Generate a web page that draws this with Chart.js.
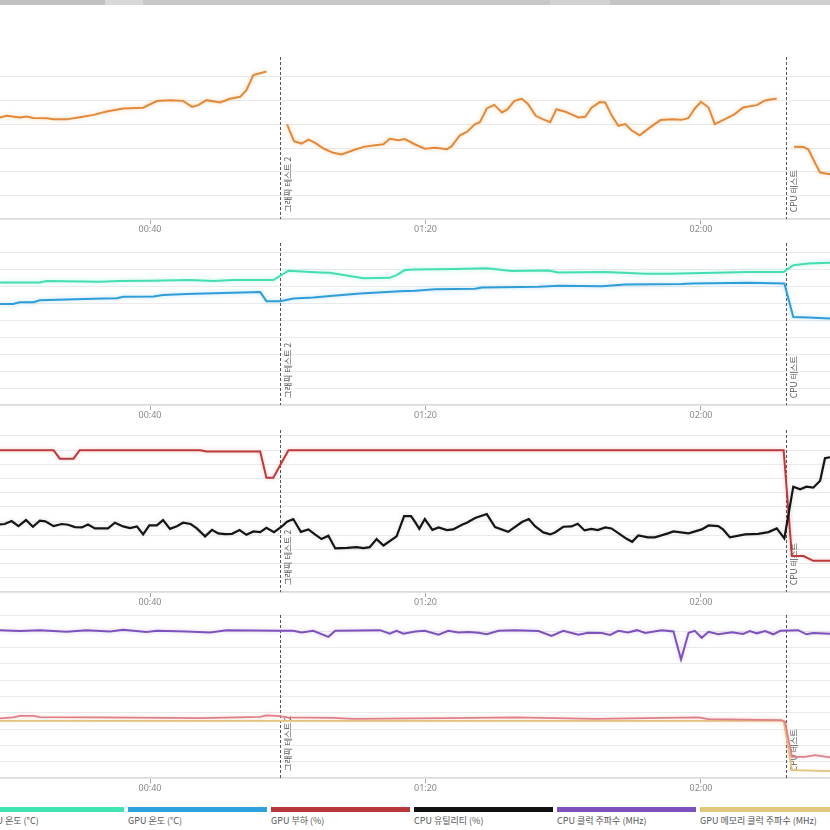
<!DOCTYPE html>
<html><head><meta charset="utf-8">
<script src="https://cdn.jsdelivr.net/npm/chart.js@4.4.1/dist/chart.umd.min.js"></script>
<style>
html,body{margin:0;padding:0;background:#fff;width:830px;height:830px;overflow:hidden;position:relative;font-family:"Noto Sans CJK KR","Noto Sans",sans-serif;}
canvas{position:absolute;left:0;}
#topbar{position:absolute;left:0;top:0;width:830px;height:5px;background:linear-gradient(90deg,#c2c2c2 0,#c2c2c2 105px,#d8d8d8 105px,#d8d8d8 143px,#c7c7c7 143px,#c7c7c7 550px,#d2d2d2 550px,#d2d2d2 610px,#c4c4c4 610px,#c4c4c4 720px,#d0d0d0 720px,#d0d0d0 830px);}
.leg{position:absolute;top:807px;width:139px;}
.leg .bar{height:5px;}
.leg .txt{font-size:9px;color:#555;margin-top:3px;white-space:nowrap;line-height:12px;}
</style></head>
<body>
<div id="topbar"></div>
<canvas id="c1" width="830" height="178" style="top:57px"></canvas>
<canvas id="c2" width="830" height="178" style="top:243px"></canvas>
<canvas id="c3" width="830" height="178" style="top:430px"></canvas>
<canvas id="c4" width="830" height="179" style="top:615px"></canvas>
<div id="legend"></div>
<script>
// ---- time axis (minutes) ----
const xMin = 18.22, xMax = 138.73;
const xTickValues = [40, 80, 120];
const eventTimes = [58.9, 132.3];
const eventLabels = ['그래픽 테스트 2', 'CPU 테스트'];

// ---- panel 1 ----
const orangeTimes = [17.5,18.2,19.2,21.1,22.1,23.0,25.0,26.0,27.9,29.8,31.8,33.7,36.1,39.0,41.0,42.9,44.8,46.1,47.0,48.2,50.2,51.6,53.1,54.0,55.0,56.9,
  58.5,
  59.9,60.9,62.0,63.0,64.0,65.2,66.6,67.8,69.5,71.0,72.4,73.9,74.8,76.1,77.0,78.5,79.9,81.4,83.1,83.8,85.0,86.0,87.2,87.9,88.9,90.0,91.1,91.9,92.9,94.0,
  94.9,96.0,97.1,98.1,99.0,100.3,101.2,102.2,103.2,104.1,105.3,106.1,107.0,108.0,109.0,109.9,111.1,112.4,114.1,115.8,117.2,118.2,119.1,120.0,121.1,
  122.0,123.7,124.9,126.1,128.1,129.3,131.0,
  132.3,
  133.5,134.9,135.6,136.6,137.3,138.7,140.2];
const orangeValues = [42.9,42.9,43.6,42.9,43.3,42.7,42.6,42.2,42.1,43.0,44.0,45.4,46.7,47.0,49.8,50.2,49.9,47.4,48.1,50.2,49.2,50.8,51.6,54.4,60.8,62.3,
  null,
  40.0,32.9,31.9,33.6,32.2,29.8,28.0,27.3,29.1,30.5,31.1,31.6,33.9,33.3,33.8,31.5,29.7,30.1,29.5,30.8,35.4,36.8,40.1,40.9,46.7,48.2,45.0,46.3,49.9,50.8,
  48.5,43.6,42.1,40.9,46.4,45.3,44.2,42.9,43.2,47.0,49.4,49.2,43.9,39.4,40.1,37.5,35.4,38.3,41.8,42.1,41.9,42.7,46.7,49.5,47.1,
  40.1,42.5,44.3,47.1,48.1,50.1,50.9,
  null,
  30.5,30.4,29.4,23.5,19.7,19.0,19.0];

// ---- panel 2 (°C) ----
const cpuTempTimes = [17.5,18.2,24.0,25.0,32.7,35.6,40.0,45.8,49.2,52.1,57.9,60.1,64.7,66.1,71.0,74.8,75.8,77.0,78.5,84.3,88.9,92.5,97.8,99.3,106.1,111.9,115.3,122.0,126.9,132.0,133.4,135.6,138.7,140.2];
const cpuTempValues = [72.6,72.6,72.6,73.4,73.0,73.4,73.6,74.0,73.4,74.0,74.0,79.5,78.5,78.3,75.0,75.3,76.9,79.9,80.2,80.5,80.9,79.3,79.7,78.5,78.7,77.7,77.7,78.3,78.7,78.7,82.8,83.8,84.2,84.2];
const gpuTempTimes = [17.5,18.2,20.1,21.1,23.1,24.0,27.9,31.8,35.2,36.1,40.5,41.9,45.3,50.6,56.0,56.9,58.9,60.8,63.7,66.6,70.5,76.3,78.5,81.4,87.2,88.2,96.4,99.3,105.6,109.0,117.2,118.7,126.9,132.1,133.4,135.6,138.7,140.2];
const gpuTempValues = [59.8,59.8,59.8,60.9,60.9,62.0,62.5,62.9,63.3,64.1,64.3,65.1,65.7,66.4,66.9,61.5,61.4,63.1,63.7,64.7,66.1,67.3,67.6,68.6,68.8,69.6,70.0,70.6,70.4,71.4,71.6,72.0,72.4,72.0,52.2,51.9,51.3,51.3];

// ---- panel 3 (%) ----
const gpuLoadTimes = [17.5,26.0,26.9,28.9,29.8,47.3,48.2,56.0,56.9,57.9,60.1,132.0,133.2,134.9,136.3,140.2];
const gpuLoadValues = [100,100,94,94,100,100,99,99,80.6,80.6,100,100,25.4,25.4,22.1,22.1];
const cpuUtilTimes = [17.5,18.2,18.9,19.9,20.9,22.0,23.0,24.0,24.8,26.0,27.2,28.1,29.1,30.1,31.0,32.0,33.9,34.9,36.1,37.1,
  38.1,39.0,39.9,41.0,41.9,42.9,43.9,44.8,45.9,46.8,48.0,49.0,49.9,50.9,51.9,53.0,54.0,55.0,56.0,56.9,
  58.0,59.1,59.9,60.8,61.9,63.0,63.9,64.9,65.9,66.9,68.6,70.0,71.0,71.9,72.9,73.9,75.8,76.9,77.9,78.5,
  79.1,79.9,81.0,81.9,83.1,84.0,85.3,86.0,87.2,88.9,90.1,92.0,94.0,95.0,95.9,97.1,98.1,98.8,100.0,101.2,
  102.1,103.1,104.1,105.0,106.1,107.0,108.2,109.2,110.0,110.9,112.3,113.3,115.2,116.0,118.2,120.1,121.1,122.5,123.2,124.2,
  126.4,128.3,129.8,131.0,132.1,133.4,134.4,135.3,136.3,137.3,138.0,138.7,140.2];
const cpuUtilValues = [47.7,47.7,48.0,50.1,46.5,50.8,46.1,50.3,49.9,46.5,48.0,47.5,45.8,45.6,47.7,44.9,44.9,48.9,46.3,45.1,
  46.3,40.7,47.0,47.0,50.8,44.6,46.5,48.9,48.0,44.9,39.3,43.9,41.4,40.9,41.1,43.7,40.4,42.8,42.3,45.3,
  42.3,46.1,49.6,51.5,42.5,44.2,40.9,37.4,39.7,30.8,31.2,31.7,31.0,31.7,37.4,32.9,39.3,53.6,53.6,49.3,
  44.6,51.5,43.9,45.6,43.7,44.2,47.5,48.9,52.2,55.0,45.8,42.5,49.4,51.5,46.5,42.1,40.7,42.1,46.1,46.3,
  48.2,43.5,44.6,43.7,45.6,44.9,40.9,37.6,35.5,40.0,38.6,38.6,41.4,42.8,41.4,44.2,47.0,46.5,44.2,38.6,
  40.7,41.1,42.3,44.9,37.9,74.3,72.4,74.3,73.6,78.5,94.3,95.0,95.0];

// ---- panel 4 (MHz) ----
const cpuClockTimes = [17.5,18.2,21.1,24.0,27.9,30.8,34.2,36.1,39.5,41.0,45.3,48.7,51.1,58.9,60.8,62.0,63.7,65.9,66.9,73.4,
  74.8,75.8,76.8,78.5,79.9,81.9,83.3,84.8,86.2,87.7,88.9,90.6,93.0,96.4,98.3,100.0,102.2,103.6,105.6,106.8,
  108.0,109.4,110.7,111.9,114.3,116.0,117.1,118.2,119.1,120.1,121.1,122.5,124.5,126.1,127.1,128.1,129.3,130.5,131.5,134.1,
  135.3,136.3,138.7,140.2];
const cpuClockValues = [4650,4650,4620,4650,4600,4650,4610,4660,4590,4630,4610,4580,4650,4630,4630,4580,4630,4440,4630,4650,
  4540,4630,4540,4610,4630,4510,4630,4580,4590,4570,4520,4630,4650,4620,4470,4630,4510,4570,4560,4500,
  4630,4580,4650,4560,4650,4610,3730,4570,4630,4410,4600,4520,4580,4530,4620,4550,4620,4520,4630,4650,
  4520,4560,4540,4540];
const gpuClockTimes = [17.5,18.2,20.1,21.1,23.1,24.0,32.7,47.3,56.0,56.9,58.9,59.8,66.6,69.5,78.5,83.3,93.0,104.6,119.6,121.1,131.7,132.2,133.2,135.1,136.6,138.7,140.2];
const gpuClockValues = [1877,1877,1909,1959,1959,1918,1909,1887,1928,1972,1950,1909,1896,1865,1877,1887,1909,1865,1909,1855,1824,1770,670,670,723,651,651];
const gpuMemTimes = [17.5,132.0,133.2,138.7,140.2];
const gpuMemValues = [1800,1800,250,220,220];

// ---- legend ----
const legendLabels = ['CPU 온도 (°C)','GPU 온도 (°C)','GPU 부하 (%)','CPU 유틸리티 (%)','CPU 클럭 주파수 (MHz)','GPU 메모리 클럭 주파수 (MHz)'];
const legendColors = ['#3fe3b4','#2fa2dd','#b8373b','#111111','#7d52c0','#e2c77f'];

const pts = (ts, vs) => ts.map((t, i) => ({x: t, y: vs[i]}));
const fmtTime = v => String(Math.floor(v / 60)).padStart(2, '0') + ':' + String(v % 60).padStart(2, '0');

const glowPlugin = {
  id: 'glow',
  beforeDatasetDraw(chart, args) {
    const ds = chart.data.datasets[args.index];
    chart.ctx.save();
    chart.ctx.shadowColor = ds.glow || 'rgba(0,0,0,0)';
    chart.ctx.shadowBlur = 4;
  },
  afterDatasetDraw(chart) { chart.ctx.restore(); }
};
const eventPlugin = {
  id: 'events',
  beforeDatasetsDraw(chart) {
    const {ctx, chartArea, scales} = chart;
    eventTimes.forEach((t, i) => {
      const x = Math.round(scales.x.getPixelForValue(t)) + 0.5;
      ctx.save();
      ctx.strokeStyle = '#555'; ctx.lineWidth = 1; ctx.setLineDash([3, 2]);
      ctx.beginPath(); ctx.moveTo(x, chartArea.top); ctx.lineTo(x, chartArea.bottom); ctx.stroke();
      ctx.setLineDash([]);
      ctx.translate(x + 3, chartArea.bottom - 7);
      ctx.rotate(-Math.PI / 2);
      ctx.font = '8.5px "Noto Sans CJK KR", sans-serif';
      ctx.fillStyle = '#555'; ctx.textAlign = 'left'; ctx.textBaseline = 'top';
      ctx.fillText(eventLabels[i], 0, 0);
      ctx.restore();
    });
  }
};

function line(label, ts, vs, color, width, glow) {
  return {label, data: pts(ts, vs), borderColor: color, backgroundColor: color, borderWidth: width,
    pointRadius: 0, tension: 0, spanGaps: false, fill: false, glow};
}

function makePanel(id, yMax, yStep, datasets) {
  return new Chart(document.getElementById(id), {
    type: 'line',
    data: {datasets},
    options: {
      responsive: false, animation: false, events: [],
      layout: {padding: 0},
      plugins: {legend: {display: false}, tooltip: {enabled: false}},
      scales: {
        x: {type: 'linear', min: xMin, max: xMax,
          afterBuildTicks: s => { s.ticks = xTickValues.map(v => ({value: v})); },
          grid: {drawOnChartArea: false, drawTicks: true, tickLength: 5, color: '#a8a8a8'},
          border: {display: true, color: '#dcdcdc', width: 1.5},
          ticks: {padding: 0, color: '#888', maxRotation: 0, autoSkip: false,
            font: {size: 9, family: '"Noto Sans", sans-serif'}, callback: v => fmtTime(v)}},
        y: {min: 0, max: yMax,
          grid: {color: '#ebebeb', lineWidth: 1, drawTicks: false},
          border: {display: false},
          ticks: {display: false, stepSize: yStep, includeBounds: false}}
      }
    },
    plugins: [eventPlugin, glowPlugin]
  });
}

makePanel('c1', 68.4, 10, [
  line('시리즈 1', orangeTimes, orangeValues, '#e4893a', 2, 'rgba(240,160,80,0.45)')
]);
makePanel('c2', 95.9, 10, [
  line(legendLabels[0], cpuTempTimes, cpuTempValues, '#45deb2', 2, 'rgba(80,230,190,0.45)'),
  line(legendLabels[1], gpuTempTimes, gpuTempValues, '#2f9ed8', 2, 'rgba(60,170,230,0.4)')
]);
makePanel('c3', 114.2, 10, [
  line(legendLabels[3], cpuUtilTimes, cpuUtilValues, '#151515', 2.2, 'rgba(0,0,0,0.15)'),
  line(legendLabels[2], gpuLoadTimes, gpuLoadValues, '#bb3a3c', 2, 'rgba(200,70,70,0.3)')
]);
makePanel('c4', 5126, 500, [
  line(legendLabels[4], cpuClockTimes, cpuClockValues, '#7e52bd', 2, 'rgba(130,90,200,0.3)'),
  line('GPU 클럭 주파수 (MHz)', gpuClockTimes, gpuClockValues, '#df8088', 1.8, 'rgba(230,130,140,0.35)'),
  line(legendLabels[5], gpuMemTimes, gpuMemValues, '#e3c47f', 1.8, 'rgba(230,200,130,0.35)')
]);

// legend
const legend = document.getElementById('legend');
legendLabels.forEach((lab, i) => {
  const d = document.createElement('div');
  d.className = 'leg';
  d.style.left = (-15 + i * 143) + 'px';
  d.innerHTML = '<div class="bar" style="background:' + legendColors[i] + '"></div><div class="txt"></div>';
  d.querySelector('.txt').textContent = lab;
  legend.appendChild(d);
});
</script>
</body></html>
